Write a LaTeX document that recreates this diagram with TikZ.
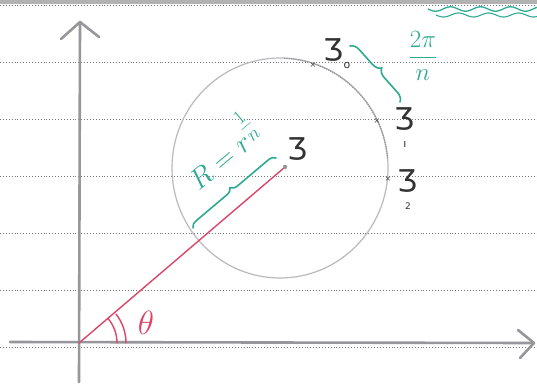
\documentclass[tikz,border=0pt]{standalone}
\usepackage{fontspec}
\setmainfont{DejaVu Sans}
\usetikzlibrary{decorations.pathreplacing,calc}
\definecolor{pencil}{RGB}{150,150,155}
\definecolor{lightpencil}{RGB}{185,185,190}
\definecolor{teal}{RGB}{45,170,145}
\definecolor{pink}{RGB}{220,70,105}
\definecolor{rule}{RGB}{120,120,125}
\tikzset{
  ruleline/.style={dotted, rule, line width=0.9pt},
  axis/.style={pencil, line width=2.6pt, line cap=round},
  ring/.style={lightpencil, line width=1.2pt},
  redline/.style={pink, line width=1.4pt, line cap=round},
  greenpen/.style={teal, line width=1.6pt, line cap=round},
  lbl/.style={inner sep=0pt, font=\fontsize{30}{30}\selectfont, text=black!80},
  sub/.style={inner sep=0pt, font=\fontsize{11}{11}\selectfont, text=black!80},
  cross/.style={inner sep=0pt, font=\fontsize{8}{8}\selectfont, text=black!75},
  greentext/.style={inner sep=0pt, text=teal}
}
\begin{document}
\begin{tikzpicture}[x=1pt,y=-1pt]
\useasboundingbox (0,0) rectangle (537,386);
\fill[white] (0,0) rectangle (537,386);
% top edge of the page
\fill[black!30] (0,0) rectangle (537,4);
\draw[ruleline] (0,5) -- (537,5);
\foreach \yy in {62,119,176,233,290,347} {
  \draw[ruleline] (0,\yy) -- (537,\yy);
}
% green waves, top right
\draw[greenpen, line width=1.3pt] plot[domain=0:109, samples=80] ({\x+428}, {9+2.2*sin(\x*12)});
\draw[greenpen, line width=1.1pt] plot[domain=0:101, samples=80] ({\x+436}, {15+2*sin(\x*12)});
% axes
\coordinate (O) at (79,343);
\coordinate (ybot) at (79,382);
\coordinate (ytip) at (80,22);
\coordinate (xleft) at (10,342);
\coordinate (xtip) at (534,343);
\draw[axis] (ybot) -- (ytip);
\draw[axis] (ytip) -- ++(-19,17);
\draw[axis] (ytip) -- ++(19,15);
\draw[axis] (xleft) -- (xtip);
\draw[axis] (xtip) -- ++(-16,-13);
\draw[axis] (xtip) -- ++(-14,15);
% circle
\coordinate (C) at (280,168);
\draw[ring] (C) ellipse [x radius=108, y radius=110];
\draw[pencil, line width=1.3pt, densely dotted] ($(C)+(-5:108)$) arc[start angle=-5, end angle=-88, x radius=108, y radius=110];
% the point z and the red radius
\coordinate (z) at (285,167);
\draw[redline] (O) -- (z);
\fill[pencil] (z) circle (2.2);
\node[lbl] (zl) at (297,149) {Ʒ};
% angle marks
\draw[redline] ($(O)+(38,0)$) arc[start angle=0, end angle=-40, radius=38];
\draw[redline] ($(O)+(47,0)$) arc[start angle=0, end angle=-38, radius=47];
\node[inner sep=0pt, text=pink, font=\fontsize{24}{24}\selectfont, scale=1.35] (theta) at (146,323) {$\theta$};
% roots
\node[cross] (x0) at (313,65) {×};
\node[cross] (x1) at (377,121) {×};
\node[cross] (x2) at (388,179) {×};
\node[lbl] (z0) at (333,50) {Ʒ};
\node[sub] (z0s) at (347,65) {o};
\node[lbl] (z1) at (404,119) {Ʒ};
\node[sub] (z1s) at (405,144) {ı};
\node[lbl] (z2) at (407,181) {Ʒ};
\node[sub] (z2s) at (408,206) {\fontsize{9}{9}\selectfont 2};
% angle 2pi/n
\coordinate (b1) at (350,46);
\coordinate (b2) at (400,102);
\draw[greenpen, decorate, decoration={brace, amplitude=9pt, raise=0pt}] (b1) -- (b2);
\node[greentext, font=\fontsize{26}{26}\selectfont] (frac) at (423,56) {$\displaystyle\frac{2\pi}{n}$};
% R = r^(1/n)
\coordinate (r1) at (193,228);
\coordinate (r2) at (276,158);
\draw[greenpen, decorate, decoration={brace, amplitude=7pt, mirror}] (r2) -- (r1);
\node[greentext, rotate=40, font=\fontsize{24}{24}\selectfont, scale=1.15, anchor=center] (Rlbl) at (220,150) {$R=r^{\textstyle\frac{1}{n}}$};
\end{tikzpicture}
\end{document}
